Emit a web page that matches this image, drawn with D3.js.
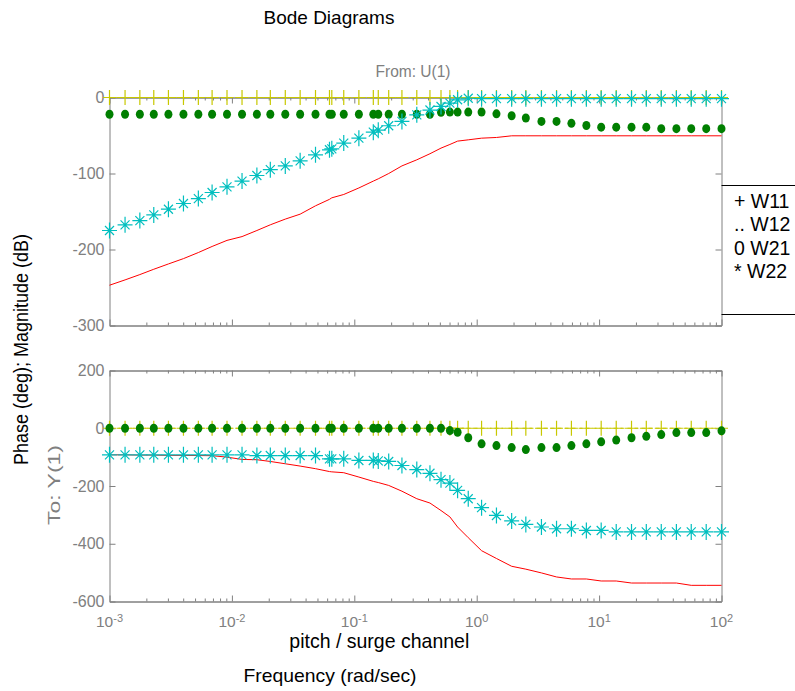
<!DOCTYPE html>
<html><head><meta charset="utf-8">
<script src="https://cdn.jsdelivr.net/npm/d3@7"></script>
<style>body{margin:0;background:#fff} svg{display:block}</style>
</head><body>
<svg id="c" width="795" height="691"></svg>
<script>
// ---------- data ----------
const freq = [0.001, 0.00134, 0.00177, 0.0023, 0.00303, 0.00402, 0.00532, 0.00689, 0.00912, 0.0121,
  0.016, 0.0206, 0.0273, 0.0361, 0.0482, 0.0627, 0.0655, 0.082, 0.109, 0.143,
  0.157, 0.191, 0.245, 0.324, 0.415, 0.511, 0.604, 0.698, 0.853, 1.096,
  1.45, 1.93, 2.52, 3.38, 4.49, 5.94, 7.87, 10.4, 13.8, 18.4,
  24.3, 32.2, 42.8, 56.6, 75.0, 100];

const magW11 = [0,0,0,0,0,0,0,0,0,0, 0,0,0,0,0,0,0,0,0,0, 0,0,0,0,0,0,0,0,0,0, 0,0,0,0,0,0,0,0,0,0, 0,0,0,0,0,0];
const magW12 = [-247,-240,-233,-226,-219,-212,-204,-196,-188,-183,
  -175,-167.5,-160,-153.5,-142.5,-134,-132,-127.6,-119,-110,
  -107,-100,-90,-82,-74,-66.6,-61.8,-57.4,-55.7,-53.5,
  -52.6,-50.4,-50.4,-50.4,-50.4,-50.4,-50.4,-50.4,-50.4,-50.4,
  -50.4,-50.4,-50.4,-50.4,-50.4,-50.4];
const magW21 = [-22,-22,-22,-22,-22,-22,-22,-22,-22,-22,
  -22,-22,-22,-22,-22,-22,-22,-22,-22,-22,
  -22,-22,-22,-22,-22,-19.5,-19.2,-19.2,-19.2,-19.2,
  -21.5,-24,-27,-31.5,-31.5,-34,-36.8,-39,-39,-39,
  -39,-41,-41,-41,-41,-41];
const magW22 = [-175,-167.5,-162,-154.5,-147,-139.5,-133,-125,-117.5,-110,
  -102.6,-95,-90,-83.3,-75.4,-68.8,-67.5,-60,-53.5,-45.6,
  -43,-37.2,-31.5,-22.8,-16.5,-11.8,-7.4,-3,-1,-1.5,
  -1.5,-1.5,-1.5,-1.5,-1.5,-1.5,-1.5,-1.5,-1.5,-1.5,
  -1.5,-1.5,-1.5,-1.5,-1.5,-1.5];

const phW11 = [0,0,0,0,0,0,0,0,0,0, 0,0,0,0,0,0,0,0,0,0, 0,0,0,0,0,0,0,0,0,0, 0,0,0,0,0,0,0,0,0,0, 0,0,0,0,0,0];
const phW12 = [-92,-92,-93,-93,-94,-94,-94.5,-95,-100,-108,
  -109,-115,-123,-131,-140,-150,-151,-154,-169,-184,
  -188,-198,-218,-244,-259,-285,-307,-342,-379,-424,
  -451,-478,-488,-501,-515,-522,-522,-529,-529,-536,
  -536,-536,-536,-544,-544,-544];
const phW21 = [0,0,0,0,0,0,0,0,0,0, 0,0,0,0,0,0,0,0,0,0, 0,0,0,0,0,0,
  -8,-14,-33,-54,-60,-67,-74,-67,-67,-60,
  -54,-47,-41,-33,-28,-22,-15,-15,-15,-9];
const phW22 = [-92,-92,-92,-92,-92,-92,-92,-92,-92,-92,
  -94.5,-94.5,-94.5,-94.5,-94.5,-106,-106,-106,-111.6,-111.6,
  -113,-115,-129,-143,-156,-178,-190,-215,-244,-275,
  -302,-321,-333,-342,-348,-348,-354,-354,-359,-359,
  -359,-359,-359,-359,-359,-359];

const freqTicks = [1e-3, 1e-2, 1e-1, 1e0, 1e1, 1e2];
const freqTickExp = ["-3", "-2", "-1", "0", "1", "2"];
const magTicks = [0, -100, -200, -300];
const phaseTicks = [200, 0, -200, -400, -600];
const legendLabels = ["+ W11", ".. W12", "0 W21", "* W22"];

// ---------- drawing ----------
const FONT = "'Liberation Sans', Arial, Helvetica, sans-serif";
const GRAY = "#808080";
const YEL = "#c8c800", GRN = "#007f00", CYA = "#00bfbf", RED = "#ff0000";
const svg = d3.select("#c").attr("font-family", FONT);

const x = d3.scaleLog().domain([1e-3, 1e2]).range([109.5, 721.5]);
const yMag = d3.scaleLinear().domain([-300, 0]).range([325.5, 97.5]);
const yPh = d3.scaleLinear().domain([-600, 200]).range([601.5, 370.5]);

const isDecade = v => Math.abs(Math.log10(v) - Math.round(Math.log10(v))) < 1e-6;
const minorTicks = x.ticks().filter(v => !isDecade(v));

function styleAxis(g) {
  g.style("color", GRAY).attr("font-size", 16).attr("font-family", FONT);
  g.selectAll("path.domain").attr("stroke-width", 1);
}

function drawFrame(y, yTicks) {
  const [yb, yt] = y.range();
  const g = svg.append("g");
  g.append("g").attr("transform", `translate(0,${yb})`)
    .call(d3.axisBottom(x).tickValues(freqTicks).tickSize(-6).tickSizeOuter(0).tickFormat("")).call(styleAxis);
  g.append("g").attr("transform", `translate(0,${yb})`)
    .call(d3.axisBottom(x).tickValues(minorTicks).tickSize(-3).tickSizeOuter(0).tickFormat("")).call(styleAxis);
  g.append("g").attr("transform", `translate(0,${yt})`)
    .call(d3.axisTop(x).tickValues(freqTicks).tickSize(-6).tickSizeOuter(0).tickFormat("")).call(styleAxis);
  g.append("g").attr("transform", `translate(0,${yt})`)
    .call(d3.axisTop(x).tickValues(minorTicks).tickSize(-3).tickSizeOuter(0).tickFormat("")).call(styleAxis);
  g.append("g").attr("transform", `translate(${x.range()[0]},0)`)
    .call(d3.axisLeft(y).tickValues(yTicks).tickSize(-6).tickSizeOuter(0).tickPadding(5).tickFormat(d => String(d)))
    .call(styleAxis);
  g.append("g").attr("transform", `translate(${x.range()[1]},0)`)
    .call(d3.axisRight(y).tickValues(yTicks).tickSize(-6).tickSizeOuter(0).tickFormat("")).call(styleAxis);
}

function drawSeries(y, w11, w12, w21, w22) {
  const g = svg.append("g");
  const line = d3.line().x((d, i) => x(freq[i])).y(d => y(d));
  // W12 red line
  g.append("path").datum(w12).attr("d", line).attr("fill", "none").attr("stroke", RED).attr("stroke-width", 1);
  // W11 dotted line + plus markers
  g.append("path").datum(w11).attr("d", line).attr("fill", "none").attr("stroke", YEL)
    .attr("stroke-width", 1).attr("stroke-dasharray", "4,3");
  g.append("g").selectAll("path").data(w11).join("path")
    .attr("transform", (d, i) => `translate(${x(freq[i])},${y(d)})`)
    .attr("d", "M0,-7.5V7.5M-6.5,0H6.5").attr("stroke", YEL).attr("stroke-width", 1.2).attr("fill", "none");
  // W21 green dots
  g.append("g").selectAll("ellipse").data(w21).join("ellipse")
    .attr("cx", (d, i) => x(freq[i])).attr("cy", d => y(d))
    .attr("rx", 4).attr("ry", 4.5).attr("fill", GRN);
  // W22 cyan asterisks
  g.append("g").selectAll("path").data(w22).join("path")
    .attr("transform", (d, i) => `translate(${x(freq[i])},${y(d)})`)
    .attr("d", "M0,-8V8M-7.5,0H7.5M-4.5,-4.5L4.5,4.5M-4.5,4.5L4.5,-4.5")
    .attr("stroke", CYA).attr("stroke-width", 1.2).attr("fill", "none");
}

drawFrame(yMag, magTicks);
drawFrame(yPh, phaseTicks);
drawSeries(yMag, magW11, magW12, magW21, magW22);
drawSeries(yPh, phW11, phW12, phW21, phW22);

// x tick labels (bottom panel)
const xl = svg.append("g").attr("fill", GRAY);
freqTicks.forEach((v, i) => {
  const t = xl.append("text").attr("x", x(v)).attr("y", 627).attr("text-anchor", "middle");
  t.append("tspan").attr("font-size", 15.5).text("10");
  t.append("tspan").attr("font-size", 11).attr("dy", -5.5).text(freqTickExp[i]);
});

// titles and labels
svg.append("text").attr("x", 263.5).attr("y", 24).attr("font-size", 19).attr("fill", "#000").text("Bode Diagrams");
svg.append("text").attr("x", 413).attr("y", 77).attr("text-anchor", "middle").attr("font-size", 16)
  .attr("fill", GRAY).attr("textLength", 75).attr("lengthAdjust", "spacingAndGlyphs").text("From: U(1)");
svg.append("text").attr("transform", "translate(28,349.5) rotate(-90)").attr("text-anchor", "middle")
  .attr("font-size", 20.5).attr("fill", "#000").attr("textLength", 231).attr("lengthAdjust", "spacingAndGlyphs")
  .text("Phase (deg); Magnitude (dB)");
svg.append("text").attr("transform", "translate(60,485) rotate(-90)").attr("text-anchor", "middle")
  .attr("font-size", 16).attr("fill", GRAY).attr("textLength", 80).attr("lengthAdjust", "spacingAndGlyphs")
  .text("To: Y(1)");
svg.append("text").attr("x", 379.3).attr("y", 647.7).attr("text-anchor", "middle").attr("font-size", 21)
  .attr("fill", "#000").attr("textLength", 180).attr("lengthAdjust", "spacingAndGlyphs").text("pitch / surge channel");
svg.append("text").attr("x", 330).attr("y", 681.7).attr("text-anchor", "middle").attr("font-size", 19)
  .attr("fill", "#000").attr("textLength", 173).attr("lengthAdjust", "spacingAndGlyphs").text("Frequency (rad/sec)");

// legend
const lg = svg.append("g");
lg.append("line").attr("x1", 721.5).attr("x2", 800).attr("y1", 185.5).attr("y2", 185.5).attr("stroke", "#000");
lg.append("line").attr("x1", 721.5).attr("x2", 800).attr("y1", 314.5).attr("y2", 314.5).attr("stroke", "#000");
lg.selectAll("text").data(legendLabels).join("text")
  .attr("x", 734).attr("y", (d, i) => 208.3 + i * 23.1)
  .attr("font-size", 19.5).attr("fill", "#000").text(d => d);
</script>
</body></html>
